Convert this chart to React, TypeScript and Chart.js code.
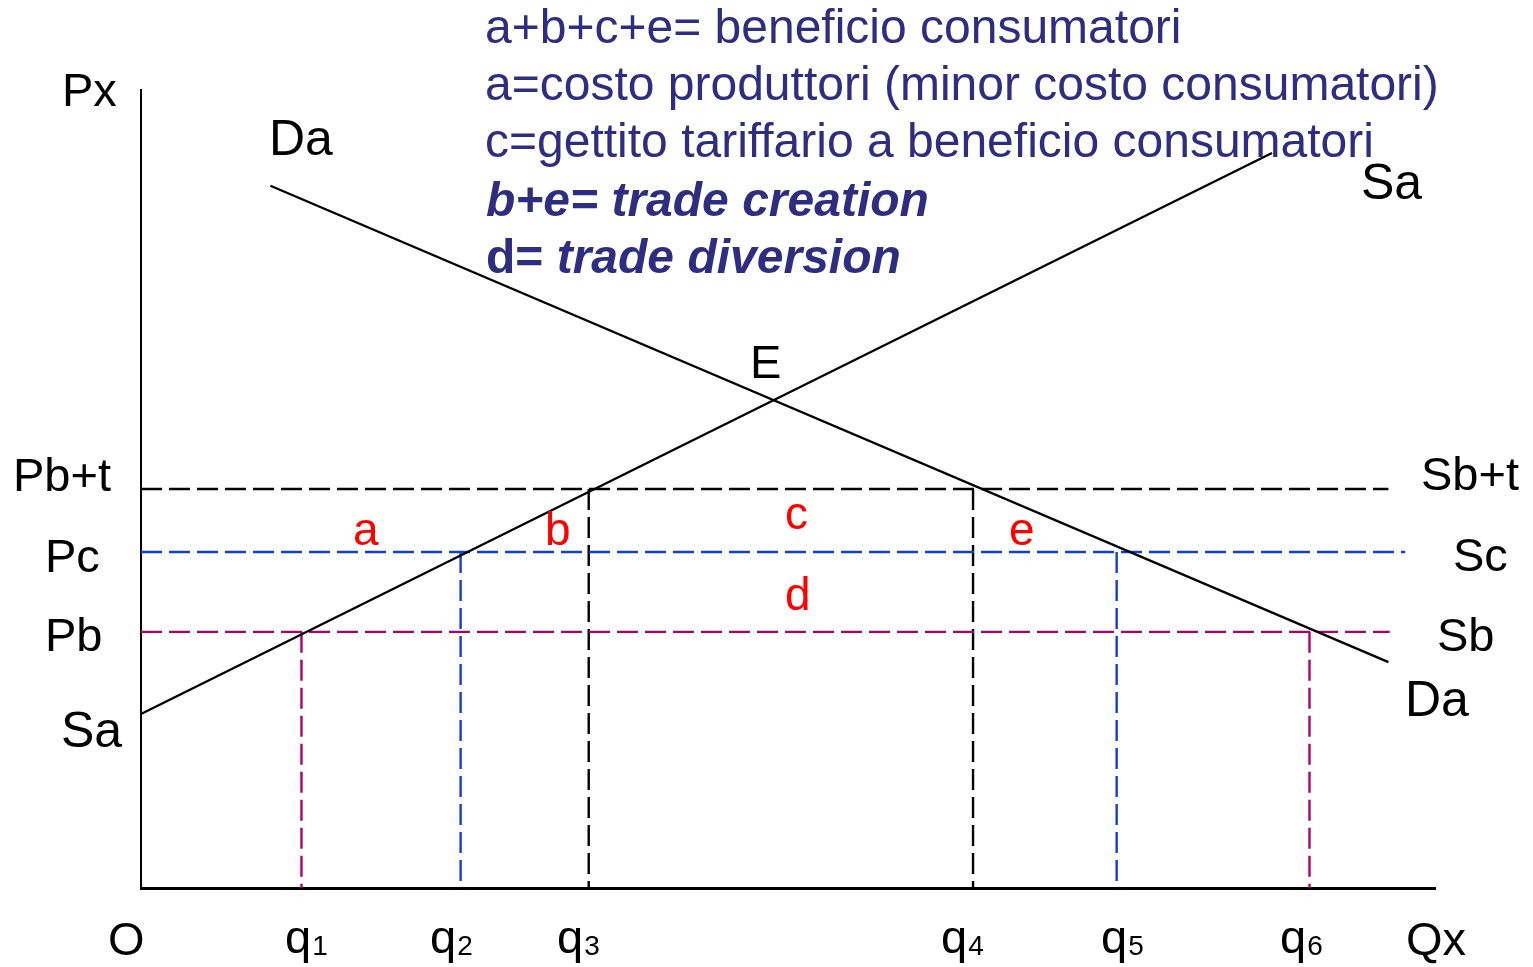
import React, { useEffect, useRef } from "react";
import { Chart, registerables } from "chart.js";

Chart.register(...registerables);

// ---- data (diagram units: quantity 0..100, price 0..100) ----
const qLabels = ["1", "2", "3", "4", "5", "6"];
const qValues = [12.4, 24.7, 34.6, 64.3, 75.4, 90.3];
const qLevels = [32.1, 42.1, 50.0, 50.0, 42.1, 32.1];
const priceNames = ["Pb+t", "Pc", "Pb"];
const supplyNames = ["Sb+t", "Sc", "Sb"];
const priceValues = [50.0, 42.1, 32.1];
const priceLineEnds = [96.4, 97.7, 96.5];
const supplyAX = [0, 87.4];
const supplyAY = [21.8, 92.1];
const demandAX = [10.0, 96.4];
const demandAY = [88.0, 28.3];
const legendLines = [
  "a+b+c+e= beneficio consumatori",
  "a=costo produttori (minor costo consumatori)",
  "c=gettito tariffario a beneficio consumatori",
];
const legendBold = [
  ["b+e= ", "trade creation"],
  ["d= ", "trade diversion"],
];

// ---- styles / layout ----
const FONT = '"Liberation Sans", Arial, sans-serif';
const NAVY = "#2D2D82";
const RED = "#FF0000";
const levelColor: Record<string, string> = {
  "50": "#000000",
  "42.1": "#1040D0",
  "32.1": "#B0006D",
};
const qLabelLeft = [285, 430, 557, 941, 1101, 1280];
const textLabels = [
  { t: "Px", x: 62, y: 106, s: 47 },
  { t: "Da", x: 269, y: 155, s: 50 },
  { t: "Sa", x: 1361, y: 199, s: 50 },
  { t: "E", x: 750, y: 378, s: 47 },
  { t: "Pb+t", x: 13, y: 491, s: 47 },
  { t: "Pc", x: 45, y: 572, s: 47 },
  { t: "Pb", x: 45, y: 651, s: 47 },
  { t: "Sa", x: 61, y: 747, s: 50 },
  { t: "O", x: 108, y: 955, s: 47 },
  { t: "Sb+t", x: 1421, y: 490, s: 47 },
  { t: "Sc", x: 1453, y: 571, s: 47 },
  { t: "Sb", x: 1437, y: 651, s: 47 },
  { t: "Da", x: 1405, y: 716, s: 50 },
  { t: "Qx", x: 1406, y: 955, s: 47 },
];
const redLabels = [
  { t: "a", x: 353, y: 545 },
  { t: "b", x: 545, y: 545 },
  { t: "c", x: 785, y: 529 },
  { t: "e", x: 1009, y: 545 },
  { t: "d", x: 785, y: 610 },
];
const legendBaselines = [43, 100, 157, 216, 273];

const textPlugin = {
  id: "diagramText",
  afterDraw(chart: any) {
    const ctx = chart.ctx as CanvasRenderingContext2D;
    ctx.save();
    ctx.textAlign = "left";
    ctx.textBaseline = "alphabetic";
    ctx.fillStyle = "#000";
    textLabels.forEach((l) => {
      ctx.font = `${l.s}px ${FONT}`;
      ctx.fillText(l.t, l.x, l.y);
    });
    // q labels with small digits
    qLabels.forEach((d, i) => {
      ctx.font = `47px ${FONT}`;
      ctx.fillText("q", qLabelLeft[i], 953);
      const w = ctx.measureText("q").width;
      ctx.font = `28px ${FONT}`;
      ctx.fillText(d, qLabelLeft[i] + w + 1, 955);
    });
    ctx.fillStyle = RED;
    ctx.font = `46px ${FONT}`;
    redLabels.forEach((l) => ctx.fillText(l.t, l.x, l.y));
    ctx.fillStyle = NAVY;
    ctx.font = `48px ${FONT}`;
    legendLines.forEach((s, i) => ctx.fillText(s, 485, legendBaselines[i]));
    legendBold.forEach(([a, b], i) => {
      const y = legendBaselines[3 + i];
      const italicHead = i === 0;
      ctx.font = `${italicHead ? "italic " : ""}bold 48px ${FONT}`;
      ctx.fillText(a, 486, y);
      const w = ctx.measureText(a).width;
      ctx.font = `italic bold 48px ${FONT}`;
      ctx.fillText(b, 486 + w, y);
    });
    ctx.restore();
  },
};

export default function App() {
  const ref = useRef<HTMLCanvasElement>(null);
  useEffect(() => {
    if (!ref.current) return;
    const solid = (xs: number[], ys: number[]) => ({
      data: xs.map((x, i) => ({ x, y: ys[i] })),
      borderColor: "#000",
      borderWidth: 2.4,
      pointRadius: 0,
      fill: false,
      clip: false as any,
    });
    const datasets: any[] = [
      solid(supplyAX, supplyAY),
      solid(demandAX, demandAY),
    ];
    priceValues.forEach((p, i) => {
      datasets.push({
        label: priceNames[i] + " / " + supplyNames[i],
        data: [
          { x: 0, y: p },
          { x: priceLineEnds[i], y: p },
        ],
        borderColor: levelColor[String(p)],
        borderWidth: 2.4,
        borderDash: [21, 7],
        pointRadius: 0,
        fill: false,
        clip: false,
      });
    });
    qValues.forEach((q, i) => {
      datasets.push({
        label: "q" + qLabels[i],
        data: [
          { x: q, y: qLevels[i] },
          { x: q, y: 0 },
        ],
        borderColor: levelColor[String(qLevels[i])],
        borderWidth: 2.4,
        borderDash: [21, 7],
        pointRadius: 0,
        fill: false,
        clip: false,
      });
    });
    const axis = (w: number) => ({
      type: "linear" as const,
      min: 0,
      max: 100,
      grid: { display: false, drawTicks: false, tickLength: 0 },
      ticks: { display: false },
      border: { display: true, color: "#000", width: w },
    });
    const chart = new Chart(ref.current, {
      type: "line",
      data: { datasets },
      options: {
        animation: false,
        responsive: false,
        devicePixelRatio: 1,
        layout: { padding: { left: 141, right: 98, top: 90, bottom: 79 } },
        plugins: { legend: { display: false }, tooltip: { enabled: false }, title: { display: false } },
        scales: { x: axis(3), y: axis(2) },
        elements: { line: { tension: 0 } },
      },
      plugins: [textPlugin],
    });
    return () => chart.destroy();
  }, []);
  return (
    <div style={{ position: "absolute", left: 0, top: 0, width: 1533, height: 967, background: "#fff" }}>
      <canvas ref={ref} width={1533} height={967} style={{ width: 1533, height: 967, display: "block" }} />
    </div>
  );
}
